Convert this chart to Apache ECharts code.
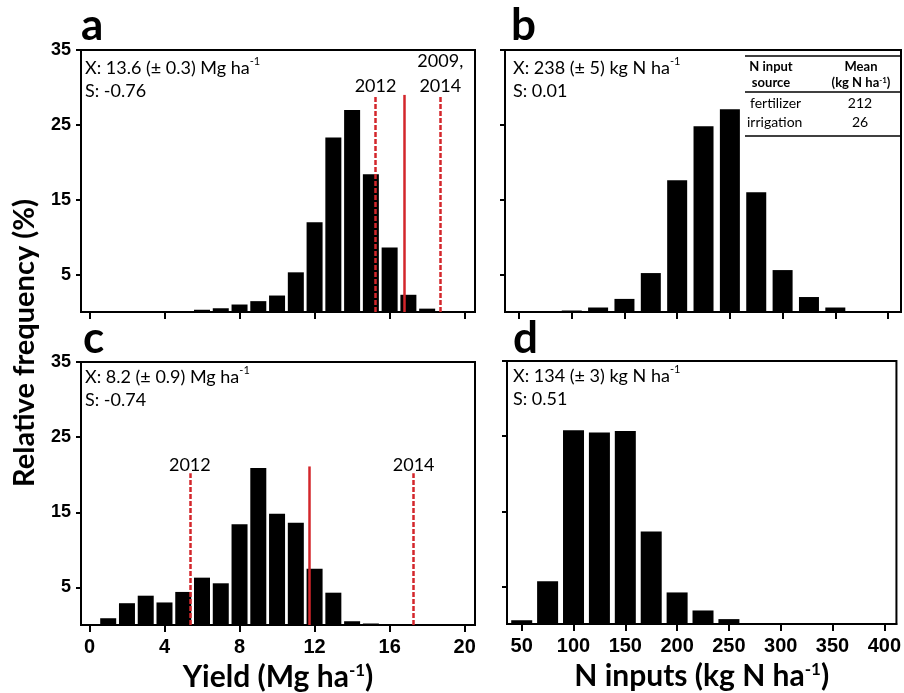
<!DOCTYPE html>
<html><head><meta charset="utf-8">
<script src="https://cdn.jsdelivr.net/npm/echarts@6/dist/echarts.min.js"></script>
<style>html,body{margin:0;padding:0;background:#fff}#c{width:904px;height:693px}</style>
</head><body><div id="c"></div>
<script>
// ---- data ----
const yieldA_bins = [6,7,8,9,10,11,12,13,14,15,16,17,18];
const yieldA_freq = [0.3,0.5,1.0,1.45,2.2,5.3,12.0,23.3,27.0,18.4,8.6,2.3,0.45];
const nB_bins = [100,125,150,175,200,225,250,275,300,325,350];
const nB_freq = [0.2,0.6,1.75,5.2,17.6,24.8,27.1,16.0,5.6,2.0,0.6];
const yieldC_bins = [1,2,3,4,5,6,7,8,9,10,11,12,13,14,15];
const yieldC_freq = [0.9,2.9,3.9,3.0,4.4,6.3,5.55,13.4,20.9,14.8,13.6,7.5,4.3,0.5,0.2];
const nD_bins = [50,75,100,125,150,175,200,225,250];
const nD_freq = [0.5,5.7,25.8,25.5,25.7,12.3,4.2,1.8,0.65];

const yTicks = [5,15,25,35];
const yieldTicks = [0,4,8,12,16,20];
const nTicks = [50,100,150,200,250,300,350,400];

// reference-year lines: x value, top (frequency), label, dashed?
const refA_x = [15.25, 16.8, 18.7];
const refA_top = [29, 29, 29];
const refA_label = ['2012', '', '2009,\n2014'];
const refA_dashed = [true, false, true];
const refC_x = [5.35, 11.7, 17.28];
const refC_top = [20.2, 21.1, 20.2];
const refC_label = ['2012', '', '2014'];
const refC_dashed = [true, false, true];

const statsA = ['X: 13.6 (± 0.3) Mg ha', 'S: -0.76'];
const statsB = ['X: 238 (± 5) kg N ha', 'S: 0.01'];
const statsC = ['X: 8.2 (± 0.9) Mg ha', 'S: -0.74'];
const statsD = ['X: 134 (± 3) kg N ha', 'S: 0.51'];

const tableHead = [['N input','source'],['Mean','(kg N ha']];
const tableRows = [['fertilizer','212'],['irrigation','26']];

// ---- chart ----
const TXT = 'Lato';
const TICKF = 'Liberation Sans';
const RED = '#d3262b';
const supRich = { s: { fontFamily: TXT, fontSize: 11, verticalAlign: 'top', lineHeight: 16, color: '#000' } };

const grids = [
  { left: 81, top: 50, width: 394, height: 262 },
  { left: 505, top: 50, width: 396, height: 262 },
  { left: 81, top: 362, width: 394, height: 263 },
  { left: 507, top: 361, width: 396, height: 263 }
].map(g => Object.assign(g, { show: true, borderColor: '#000', borderWidth: 2, backgroundColor: 'transparent' }));

function xAxis(i, min, max, ticks, showLabels, name) {
  return {
    type: 'value', gridIndex: i, min, max,
    axisLine: { show: true, onZero: false, lineStyle: { color: '#000', width: 2 } },
    axisTick: { show: true, customValues: ticks, length: 7, lineStyle: { color: '#000', width: 2 } },
    axisLabel: { show: showLabels, customValues: ticks, margin: 12, color: '#000',
      fontFamily: TICKF, fontWeight: 'bold', fontSize: 20 },
    splitLine: { show: false },
    name: name || '', nameLocation: 'middle', nameGap: 37,
    nameTextStyle: { fontFamily: TXT, fontWeight: 'bold', fontSize: 30, color: '#000',
      rich: { s: { fontFamily: TXT, fontWeight: 'bold', fontSize: 17, verticalAlign: 'top', lineHeight: 22, color: '#000' } } }
  };
}
function yAxis(i, showLabels) {
  return {
    type: 'value', gridIndex: i, min: 0, max: 35,
    axisLine: { show: true, onZero: false, lineStyle: { color: '#000', width: 2 } },
    axisTick: { show: true, customValues: yTicks, length: 5, lineStyle: { color: '#000', width: 2 } },
    axisLabel: { show: showLabels, customValues: yTicks, margin: 10, color: '#000',
      fontFamily: TICKF, fontWeight: 'bold', fontSize: 18 },
    splitLine: { show: false }
  };
}

function refMarks(xs, tops, labels, dashed) {
  return {
    silent: true, symbol: ['none', 'none'], animation: false,
    data: xs.map((x, k) => [
      { coord: [x, 0],
        lineStyle: { color: RED, width: 2.5, type: dashed[k] ? [5, 2] : 'solid' },
        label: { show: labels[k] !== '', formatter: labels[k], position: 'end', distance: -4,
          color: '#000', fontFamily: TXT, fontSize: 18, lineHeight: 25 } },
      { coord: [x, tops[k]] }
    ])
  };
}

function barSeries(i, bins, freq, width, mark) {
  const s = {
    type: 'bar', xAxisIndex: i, yAxisIndex: i, barWidth: width,
    itemStyle: { color: '#000' }, animation: false,
    data: bins.map((b, k) => [b, freq[k]])
  };
  if (mark) s.markLine = mark;
  return s;
}

function statTitle(lines, left, top) {
  return {
    text: lines[0] + '{s|-1}\n' + lines[1], left, top, padding: 0,
    textStyle: { fontFamily: TXT, fontWeight: 'normal', fontSize: 18, lineHeight: 23.5, color: '#000', rich: supRich }
  };
}

const letter = (t, x, y) => ({ type: 'text', x, y, style: { text: t, fill: '#000',
  fontFamily: TXT, fontWeight: 'bold', fontSize: 44, align: 'left', verticalAlign: 'middle' } });

const tLine = (y) => ({ type: 'line', shape: { x1: 745, y1: y, x2: 901, y2: y }, style: { stroke: '#000', lineWidth: 1.5 } });
const tText = (t, x, y, bold, align) => ({ type: 'text', x, y, style: { text: t, fill: '#000',
  fontFamily: TXT, fontWeight: bold ? 'bold' : 'normal', fontSize: bold ? 13 : 14, align: align || 'center', verticalAlign: 'middle',
  rich: { s: { fontFamily: TXT, fontWeight: 'bold', fontSize: 8, verticalAlign: 'top', lineHeight: 12, fill: '#000' } } } });

const graphic = [
  letter('a', 81, 26), letter('b', 511, 26), letter('c', 83, 339), letter('d', 513, 339),
  { type: 'text', x: 25, y: 343, rotation: Math.PI / 2, style: { text: 'Relative frequency (%)', fill: '#000',
    fontFamily: TXT, fontWeight: 'bold', fontSize: 29, align: 'center', verticalAlign: 'middle' } },
  tLine(56), tLine(92), tLine(136),
  tText(tableHead[0][0], 771, 67, true), tText(tableHead[0][1], 771, 83, true),
  tText(tableHead[1][0], 861, 67, true), tText(tableHead[1][1] + '{s|-1})', 861, 83, true),
  tText(tableRows[0][0], 750, 103, false, 'left'), tText(tableRows[0][1], 860, 103, false),
  tText(tableRows[1][0], 747, 122, false, 'left'), tText(tableRows[1][1], 860, 122, false)
];

const option = {
  animation: false,
  backgroundColor: '#fff',
  grid: grids,
  xAxis: [
    xAxis(0, -0.45, 20.55, yieldTicks, false),
    xAxis(1, 36.7, 412.3, nTicks, false),
    xAxis(2, -0.45, 20.55, yieldTicks, true, 'Yield (Mg ha{s|-1})'),
    xAxis(3, 35.8, 411.7, nTicks, true, 'N inputs (kg N ha{s|-1})')
  ],
  yAxis: [yAxis(0, true), yAxis(1, false), yAxis(2, true), yAxis(3, false)],
  title: [statTitle(statsA, 85, 56), statTitle(statsB, 513, 56), statTitle(statsC, 85, 365), statTitle(statsD, 513, 364)],
  series: [
    barSeries(0, yieldA_bins, yieldA_freq, 16, refMarks(refA_x, refA_top, refA_label, refA_dashed)),
    barSeries(1, nB_bins, nB_freq, 20),
    barSeries(2, yieldC_bins, yieldC_freq, 16, refMarks(refC_x, refC_top, refC_label, refC_dashed)),
    barSeries(3, nD_bins, nD_freq, 21)
  ],
  graphic
};
const chart = echarts.init(document.getElementById('c'), null, { renderer: 'canvas' });
chart.setOption(option);
</script></body></html>
